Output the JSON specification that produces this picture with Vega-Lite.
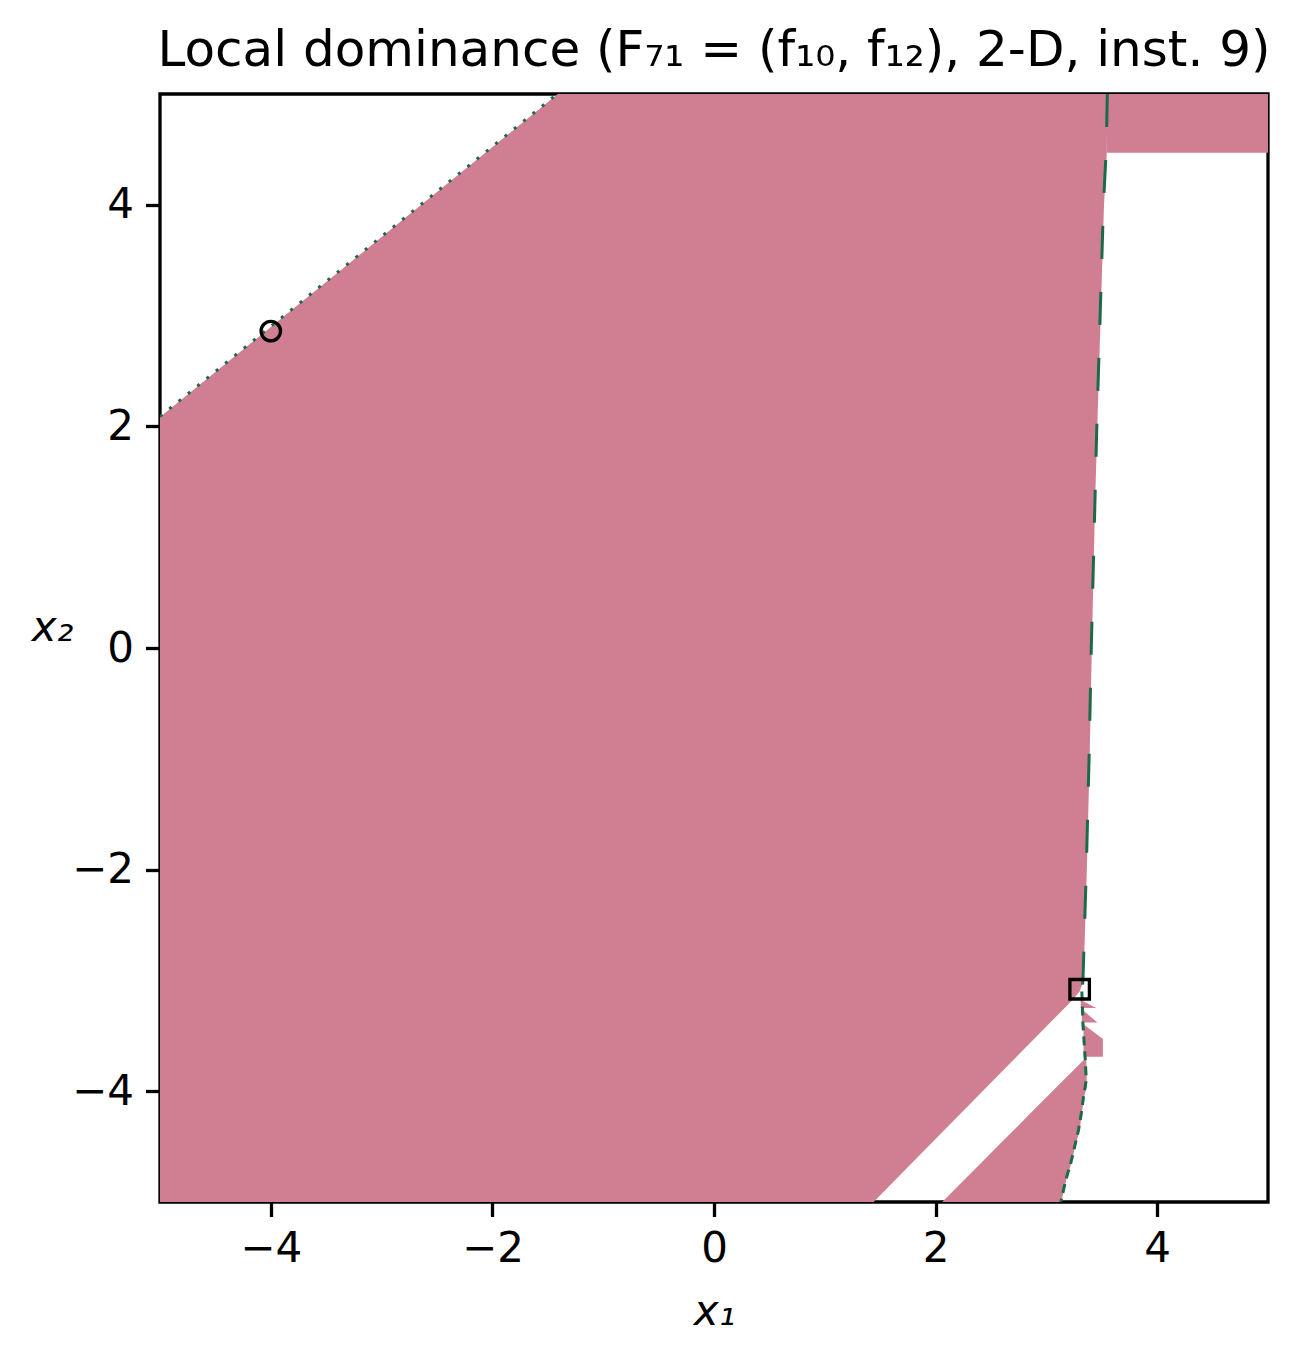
{
  "$schema": "https://vega.github.io/schema/vega-lite/v6.json",
  "width": 1108,
  "height": 1108,
  "autosize": "none",
  "padding": {"left": 160, "top": 94, "right": 30, "bottom": 161},
  "background": "white",
  "title": {
    "text": "Local dominance (F₇₁ = (f₁₀, f₁₂), 2-D, inst. 9)",
    "font": "DejaVu Sans",
    "fontSize": 50,
    "fontWeight": "normal",
    "color": "black",
    "anchor": "middle",
    "baseline": "alphabetic",
    "frame": "group",
    "offset": -22
  },
  "config": {
    "view": {"stroke": "black", "strokeWidth": 3.3},
    "axis": {
      "domain": false,
      "grid": false,
      "ticks": true,
      "tickColor": "black",
      "tickSize": 14.5,
      "tickWidth": 3.3,
      "labelFont": "DejaVu Sans",
      "labelFontSize": 42,
      "labelColor": "black",
      "labelPadding": 12,
      "format": ".0f",
      "titleFont": "DejaVu Sans",
      "titleFontSize": 42,
      "titleFontWeight": "normal",
      "titleFontStyle": "italic",
      "titleColor": "black"
    }
  },
  "datasets": {
    "regions": [
      {"part": "A", "y": -5, "x": -5, "x2": 1.44},
      {"part": "A", "y": -3.177, "x": -5, "x2": 3.235},
      {"part": "A", "y": -3.1, "x": -5, "x2": 3.3},
      {"part": "A", "y": -3.0, "x": -5, "x2": 3.335},
      {"part": "A", "y": -2, "x": -5, "x2": 3.365},
      {"part": "A", "y": -1, "x": -5, "x2": 3.39},
      {"part": "A", "y": 0, "x": -5, "x2": 3.41},
      {"part": "A", "y": 1.34, "x": -5, "x2": 3.44},
      {"part": "A", "y": 2, "x": -5, "x2": 3.46},
      {"part": "A", "y": 2.085, "x": -5, "x2": 3.462},
      {"part": "A", "y": 3, "x": -3.873, "x2": 3.49},
      {"part": "A", "y": 4, "x": -2.642, "x2": 3.52},
      {"part": "A", "y": 4.47, "x": -2.063, "x2": 3.545},
      {"part": "A", "y": 5, "x": -1.41, "x2": 3.55},
      {"part": "B", "y": -5, "x": 2.06, "x2": 3.135},
      {"part": "B", "y": -4.8, "x": 2.259, "x2": 3.18},
      {"part": "B", "y": -4.65, "x": 2.408, "x2": 3.225},
      {"part": "B", "y": -4.5, "x": 2.557, "x2": 3.26},
      {"part": "B", "y": -4.35, "x": 2.707, "x2": 3.3},
      {"part": "B", "y": -4.2, "x": 2.856, "x2": 3.32},
      {"part": "B", "y": -4.05, "x": 3.005, "x2": 3.34},
      {"part": "B", "y": -3.96, "x": 3.095, "x2": 3.365},
      {"part": "B", "y": -3.72, "x": 3.335, "x2": 3.36},
      {"part": "t1", "y": -3.25, "x": 3.31, "x2": 3.45},
      {"part": "t1", "y": -3.177, "x": 3.31, "x2": 3.31},
      {"part": "t2", "y": -3.38, "x": 3.32, "x2": 3.46},
      {"part": "t2", "y": -3.26, "x": 3.32, "x2": 3.32},
      {"part": "t3", "y": -3.69, "x": 3.335, "x2": 3.51},
      {"part": "t3", "y": -3.53, "x": 3.335, "x2": 3.51},
      {"part": "t3", "y": -3.4, "x": 3.335, "x2": 3.34}
    ],
    "rects": [
      {"x": 3.545, "x2": 5, "y": 4.47, "y2": 5}
    ],
    "contour": [
      {"seg": "a", "ord": 1, "x": 3.55, "y": 5},
      {"seg": "a", "ord": 2, "x": 3.54, "y": 4.5},
      {"seg": "a", "ord": 3, "x": 3.515, "y": 4},
      {"seg": "a", "ord": 4, "x": 3.485, "y": 3},
      {"seg": "a", "ord": 5, "x": 3.455, "y": 2},
      {"seg": "a", "ord": 6, "x": 3.43, "y": 1},
      {"seg": "a", "ord": 7, "x": 3.405, "y": 0},
      {"seg": "a", "ord": 8, "x": 3.385, "y": -1},
      {"seg": "a", "ord": 9, "x": 3.36, "y": -2},
      {"seg": "a", "ord": 10, "x": 3.33, "y": -3},
      {"seg": "a", "ord": 11, "x": 3.32, "y": -3.1},
      {"seg": "b", "ord": 12, "x": 3.32, "y": -3.1},
      {"seg": "b", "ord": 13, "x": 3.33, "y": -3.4},
      {"seg": "b", "ord": 14, "x": 3.35, "y": -3.7},
      {"seg": "b", "ord": 15, "x": 3.36, "y": -3.9},
      {"seg": "b", "ord": 16, "x": 3.335, "y": -4.05},
      {"seg": "b", "ord": 17, "x": 3.315, "y": -4.2},
      {"seg": "b", "ord": 18, "x": 3.29, "y": -4.35},
      {"seg": "b", "ord": 19, "x": 3.255, "y": -4.5},
      {"seg": "b", "ord": 20, "x": 3.22, "y": -4.65},
      {"seg": "b", "ord": 21, "x": 3.175, "y": -4.8},
      {"seg": "b", "ord": 22, "x": 3.13, "y": -5}
    ],
    "diag": [
      {"ord": 1, "x": -5, "y": 2.09},
      {"ord": 2, "x": -1.41, "y": 5.005}
    ],
    "markers": [
      {"shape": "circle", "x": -4.0, "y": 2.86},
      {"shape": "square", "x": 3.3, "y": -3.08}
    ]
  },
  "layer": [
    {
      "data": {"name": "regions"},
      "mark": {"type": "area", "orient": "horizontal", "color": "#d07f93", "clip": true},
      "encoding": {
        "y": {
          "field": "y", "type": "quantitative",
          "scale": {"domain": [-5, 5], "nice": false, "zero": false},
          "axis": {
            "values": [-4, -2, 0, 2, 4],
            "title": "x₂",
            "titleAngle": 0,
            "titleX": -108,
            "titleY": 546,
            "titleAlign": "center",
            "titleBaseline": "alphabetic"
          }
        },
        "x": {
          "field": "x", "type": "quantitative", "stack": null,
          "scale": {"domain": [-5, 5], "nice": false, "zero": false},
          "axis": {
            "values": [-4, -2, 0, 2, 4],
            "title": "x₁",
            "titleX": 554,
            "titleY": 122,
            "titleAlign": "center",
            "titleBaseline": "alphabetic"
          }
        },
        "x2": {"field": "x2"},
        "detail": {"field": "part", "type": "nominal"}
      }
    },
    {
      "data": {"name": "rects"},
      "mark": {"type": "rect", "color": "#d07f93", "clip": true},
      "encoding": {
        "x": {"field": "x", "type": "quantitative"},
        "x2": {"field": "x2"},
        "y": {"field": "y", "type": "quantitative"},
        "y2": {"field": "y2"}
      }
    },
    {
      "data": {"name": "contour"},
      "mark": {"type": "line", "color": "#1b6a48", "strokeWidth": 3, "clip": true},
      "encoding": {
        "x": {"field": "x", "type": "quantitative"},
        "y": {"field": "y", "type": "quantitative"},
        "order": {"field": "ord", "type": "quantitative"},
        "strokeDash": {
          "field": "seg", "type": "nominal",
          "scale": {"domain": ["a", "b"], "range": [[33, 33], [9, 6]]},
          "legend": null
        }
      }
    },
    {
      "data": {"name": "diag"},
      "mark": {"type": "line", "color": "#1b6a48", "strokeWidth": 3, "strokeDash": [3, 9], "clip": true},
      "encoding": {
        "x": {"field": "x", "type": "quantitative"},
        "y": {"field": "y", "type": "quantitative"},
        "order": {"field": "ord", "type": "quantitative"}
      }
    },
    {
      "data": {"name": "markers"},
      "mark": {"type": "point", "filled": false, "stroke": "black", "strokeWidth": 3.3, "size": 380, "opacity": 1},
      "encoding": {
        "x": {"field": "x", "type": "quantitative"},
        "y": {"field": "y", "type": "quantitative"},
        "shape": {
          "field": "shape", "type": "nominal",
          "scale": {"domain": ["circle", "square"], "range": ["circle", "square"]},
          "legend": null
        }
      }
    }
  ]
}
